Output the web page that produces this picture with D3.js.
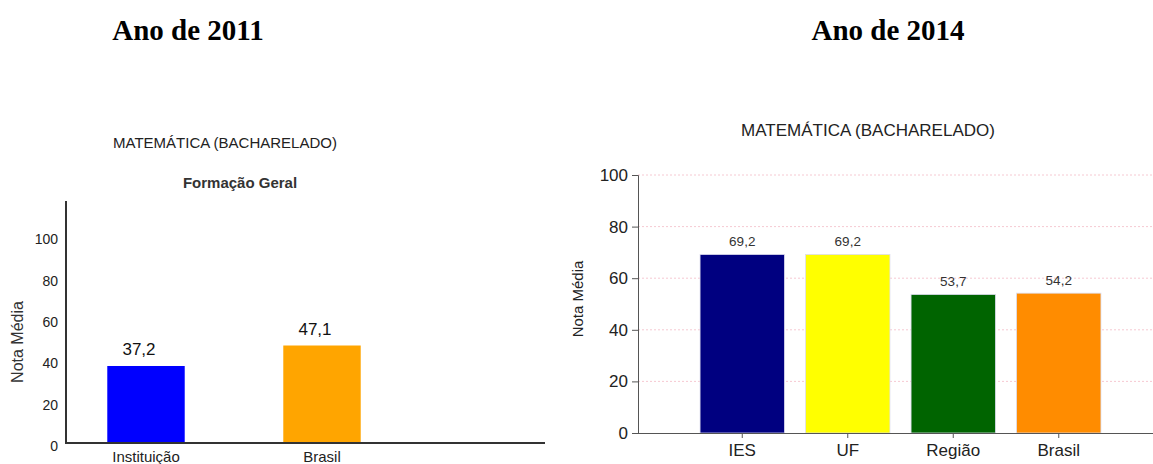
<!DOCTYPE html>
<html><head><meta charset="utf-8">
<script src="https://cdn.jsdelivr.net/npm/d3@7"></script>
<style>body{margin:0;background:#fff}svg{display:block}</style>
</head><body>
<svg id="c" width="1153" height="464"></svg>
<script>
const leftCategories = ["Instituição", "Brasil"];
const leftValues = [37.2, 47.1];
const leftLabels = ["37,2", "47,1"];
const leftColors = ["#0000ff", "#ffa500"];
const leftTicks = [0, 20, 40, 60, 80, 100];

const rightCategories = ["IES", "UF", "Região", "Brasil"];
const rightValues = [69.2, 69.2, 53.7, 54.2];
const rightLabels = ["69,2", "69,2", "53,7", "54,2"];
const rightColors = ["#000080", "#ffff00", "#006400", "#ff8c00"];
const rightTicks = [0, 20, 40, 60, 80, 100];

const svg = d3.select("#c");
const sans = "Liberation Sans, Arial, sans-serif";
const serif = "Liberation Serif, Times New Roman, serif";

// Headings
svg.append("text").attr("x", 188).attr("y", 40).attr("text-anchor", "middle")
  .attr("font-family", serif).attr("font-weight", "bold").attr("font-size", 29).text("Ano de 2011");
svg.append("text").attr("x", 888).attr("y", 40).attr("text-anchor", "middle")
  .attr("font-family", serif).attr("font-weight", "bold").attr("font-size", 29).text("Ano de 2014");

// ---------- Left chart (2011)
{
  const g = svg.append("g");
  const y = d3.scaleLinear().domain([0, 100]).range([443, 236]);
  const x = d3.scaleBand().domain([...leftCategories, "_"]).range([58, 586]).paddingInner(0.56).paddingOuter(0.28);
  g.append("text").attr("x", 225).attr("y", 148).attr("text-anchor", "middle")
    .attr("font-family", sans).attr("font-size", 15).attr("fill", "#222").text("MATEMÁTICA (BACHARELADO)");
  g.append("text").attr("x", 240).attr("y", 188).attr("text-anchor", "middle")
    .attr("font-family", sans).attr("font-weight", "bold").attr("font-size", 15).attr("fill", "#333").text("Formação Geral");

  g.selectAll("rect.b").data(leftValues).join("rect")
    .attr("x", (d, i) => x(leftCategories[i])).attr("width", x.bandwidth())
    .attr("y", d => y(d)).attr("height", d => y(0) - y(d))
    .attr("fill", (d, i) => leftColors[i]);
  g.selectAll("text.v").data(leftValues).join("text")
    .attr("x", (d, i) => x(leftCategories[i]) + x.bandwidth() / 2 - 7)
    .attr("y", d => y(d) - 11).attr("text-anchor", "middle")
    .attr("font-family", sans).attr("font-size", 17).attr("fill", "#111")
    .text((d, i) => leftLabels[i]);

  const ya = d3.axisLeft(y).tickValues(leftTicks).tickSize(0).tickPadding(8);
  const ag = g.append("g").attr("transform", "translate(66,0)").call(ya);
  ag.select(".domain").remove();
  ag.selectAll("text").attr("font-family", sans).attr("font-size", 14).attr("fill", "#222").attr("dy", "0.55em");
  g.append("line").attr("x1", 66).attr("x2", 66).attr("y1", 201).attr("y2", 444).attr("stroke", "#333").attr("stroke-width", 2);
  g.append("line").attr("x1", 65).attr("x2", 545).attr("y1", 443).attr("y2", 443).attr("stroke", "#333").attr("stroke-width", 2);

  const xa = d3.axisBottom(x).tickValues(leftCategories).tickSize(0).tickPadding(7);
  const xg = g.append("g").attr("transform", "translate(0,444)").call(xa);
  xg.select(".domain").remove();
  xg.selectAll("text").attr("font-family", sans).attr("font-size", 15).attr("fill", "#222");

  g.append("text").attr("transform", "translate(23,342) rotate(-90)").attr("text-anchor", "middle")
    .attr("font-family", sans).attr("font-size", 16).attr("fill", "#333").text("Nota Média");
}

// ---------- Right chart (2014)
{
  const g = svg.append("g");
  const y = d3.scaleLinear().domain([0, 100]).range([433, 175]);
  const x = d3.scaleBand().domain(rightCategories).range([689.5, 1111.5]).paddingInner(0.2).paddingOuter(0.1);
  g.append("text").attr("x", 868).attr("y", 136).attr("text-anchor", "middle")
    .attr("font-family", sans).attr("font-size", 17).attr("fill", "#222").text("MATEMÁTICA (BACHARELADO)");

  g.selectAll("line.grid").data(rightTicks.filter(t => t > 0)).join("line")
    .attr("x1", 638).attr("x2", 1153).attr("y1", d => y(d)).attr("y2", d => y(d))
    .attr("stroke", "#f6c9d2").attr("stroke-width", 1).attr("stroke-dasharray", "2,2");

  g.selectAll("rect.b").data(rightValues).join("rect")
    .attr("x", (d, i) => x(rightCategories[i])).attr("width", x.bandwidth())
    .attr("y", d => y(d)).attr("height", d => y(0) - y(d))
    .attr("fill", (d, i) => rightColors[i]).attr("stroke", "#dde").attr("stroke-width", 0.8);
  g.selectAll("text.v").data(rightValues).join("text")
    .attr("x", (d, i) => x(rightCategories[i]) + x.bandwidth() / 2)
    .attr("y", d => y(d) - 8).attr("text-anchor", "middle")
    .attr("font-family", sans).attr("font-size", 13.5).attr("fill", "#333")
    .text((d, i) => rightLabels[i]);

  const ya = d3.axisLeft(y).tickValues(rightTicks).tickSize(6).tickPadding(4);
  const ag = g.append("g").attr("transform", "translate(638,0)").call(ya);
  ag.select(".domain").attr("stroke", "#555");
  ag.selectAll(".tick line").attr("stroke", "#555");
  ag.selectAll("text").attr("font-family", sans).attr("font-size", 17).attr("fill", "#222");

  g.append("line").attr("x1", 638).attr("x2", 1153).attr("y1", 433.5).attr("y2", 433.5).attr("stroke", "#555");
  const xa = d3.axisBottom(x).tickSize(5).tickPadding(6);
  const xg = g.append("g").attr("transform", "translate(0,433)").call(xa);
  xg.select(".domain").remove();
  xg.selectAll(".tick line").attr("stroke", "#555");
  xg.selectAll("text").attr("font-family", sans).attr("font-size", 17).attr("fill", "#222");

  g.append("text").attr("transform", "translate(583,299) rotate(-90)").attr("text-anchor", "middle")
    .attr("font-family", sans).attr("font-size", 15).attr("fill", "#222").text("Nota Média");
}
</script>
</body></html>
